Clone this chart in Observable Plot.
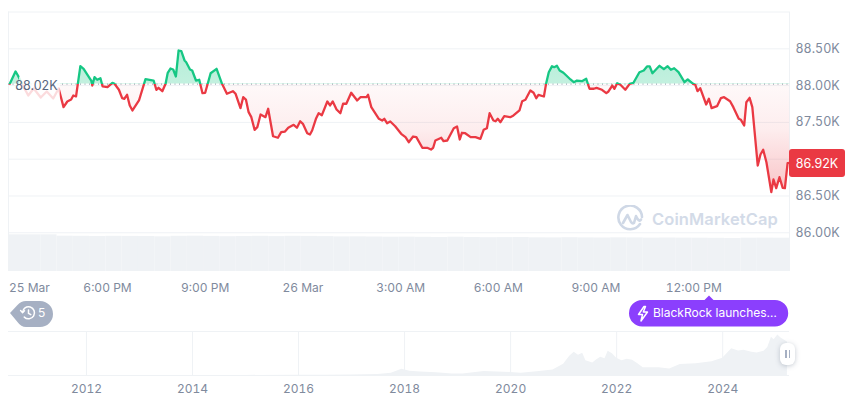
<!DOCTYPE html>
<html><head><meta charset="utf-8">
<script src="https://cdn.jsdelivr.net/npm/d3@7"></script>
<script src="https://cdn.jsdelivr.net/npm/@observablehq/plot@0.6"></script>
<style>
html,body{margin:0;padding:0;background:#fff}
#c{position:relative;width:860px;height:401px;overflow:hidden;font-family:Inter,sans-serif}
#c svg{display:block}
.layer{position:absolute;left:0}
.pill{position:absolute;color:#fff;font-size:12px;display:flex;align-items:center;box-sizing:border-box}
</style></head><body><div id="c"></div>
<script>
const minutes=[0,10.5,15,23,34,44,57,68,80,90,99,106,113,117,122,130,136,144,150,152,156,161,167,171,180,189,193,201,207,211,216,221,226,238,250,265,270,274,281,287,291,296,301,306,311,316,322,325,332,336,343,349,355,360,370,381,391,400,411,416,425,430,435,440,445,451,456,462,471,476,485,494,500,507,513,523,529,535,540,548,553,557,564,569,575,585,590,595,602,609,614,620,629,640,646,657,660,666,680,686,690,695,701,710,721,729,735,743,749,760,769,776,780,784,795,799,806,818,824,829,833,839,849,858,867,873,879,884,891,895,899,904,911,922,928,939,944,950,959,965,970,974,984,988,993,999,1003,1008,1013,1020,1033,1039,1045,1054,1062,1068,1076,1081,1091,1099,1103,1110,1114,1119,1125,1134,1142,1149,1160,1168,1174,1179,1184,1197,1205,1212,1218,1224,1232,1243,1249,1259,1263,1267,1272,1283,1288,1293,1303,1310,1316,1327,1333,1343,1347,1353,1357,1363,1368,1372,1378,1383,1388,1394,1403,1407,1412,1418,1424,1428,1433,1437];
const prices=[88024,88192,88137,88015,87865,87960,87838,87920,87825,87960,87707,87784,87811,87865,87852,88264,88228,88137,88069,88001,88114,88079,88100,87988,87978,88038,88024,87943,87829,87821,87875,87730,87662,87798,88087,88069,87943,87970,87924,88024,88174,88232,88219,88124,88477,88467,88341,88318,88219,88205,88069,88079,87897,87902,88168,88228,88024,87889,87924,87889,87693,87842,87811,87639,87571,87399,87435,87607,87571,87685,87312,87291,87367,87376,87427,87467,87427,87516,87481,87353,87336,87390,87549,87625,87598,87784,87730,87784,87675,87625,87753,87753,87902,87798,87842,87842,87875,87707,87549,87526,87549,87489,87512,87448,87345,87299,87231,87308,87299,87155,87155,87132,87155,87254,87291,87245,87254,87421,87444,87268,87359,87353,87299,87299,87277,87399,87421,87625,87526,87516,87549,87503,87584,87571,87594,87662,87788,87807,87933,87902,87829,87875,87852,88024,88182,88264,88250,88269,88205,88174,88083,88046,88069,88060,88092,87957,87957,87970,87943,87897,87920,88001,87957,88033,88011,87943,88024,88038,88182,88205,88260,88260,88168,88269,88223,88264,88215,88236,88182,88046,88083,88024,88011,87924,87965,87743,87821,87693,87720,87829,87842,87788,87707,87549,87535,87458,87774,87834,87707,87390,86914,87064,87128,86959,86552,86724,86606,86755,86611,86606,86946,86950];
const baselinePrice=88020;
const gridPrices=[86000,86500,87000,87500,88000,88500,89000];
const axisPrices=[86000,86500,87500,88000,88500];
const timeTicks=[36,180,360,540,720,900,1080,1260];
const timeLabels=["25 Mar","6:00 PM","9:00 PM","26 Mar","3:00 AM","6:00 AM","9:00 AM","12:00 PM"];
const volumeStarts=[-3,27,57,87,117,147,177,207,237,267,297,327,357,387,417,447,477,507,537,567,597,627,657,687,717,747,777,807,837,867,897,927,957,987,1017,1047,1077,1107,1137,1167,1197,1227,1257,1287,1317,1347,1377,1407,1437];
const volumes=[36.7,36.7,36.7,35.3,35.2,35.0,35.2,35.1,35.0,34.7,35.2,35.3,35.1,34.8,35.0,35.2,34.9,35.2,35.1,34.9,34.6,34.7,34.5,34.3,34.4,34.2,34.0,34.3,34.0,33.8,33.9,34.0,33.7,33.6,33.8,33.6,33.5,33.7,33.6,33.4,33.5,33.4,33.3,33.2,33.0,33.3,33.4,33.3];
const navYears=[2010.53,2015,2016,2016.5,2017,2017.5,2017.75,2017.95,2018.1,2018.3,2018.6,2018.9,2019.1,2019.5,2019.75,2020,2020.2,2020.5,2020.8,2021,2021.05,2021.12,2021.2,2021.28,2021.36,2021.42,2021.55,2021.62,2021.7,2021.78,2021.84,2021.92,2022,2022.1,2022.2,2022.3,2022.4,2022.5,2022.8,2023,2023.2,2023.5,2023.8,2024,2024.17,2024.3,2024.4,2024.55,2024.65,2024.78,2024.85,2024.92,2024.97,2025.04,2025.1,2025.22];
const navPrices=[0,0.3,0.4,0.6,1,2.5,6,16,11,9,7,4,3.7,10,9,8,6,9.5,14,29,38,50,60,52,57,38,32,40,47,43,62,56,44,38,42,39,30,20,20,17,28,30,35,44,69,63,65,60,58,62,72,98,92,104,96,86];
const navTicks=[2012,2014,2016,2018,2020,2022,2024];
const balanceLabel="88.02K", lastLabel="86.92K", eventLabel="BlackRock launches…", historyCount="5";

const rows=minutes.map((m,i)=>({m,p:prices[i]}));
const xDom=[-2.4,1436.5], yDom=[85474,89000];
const fmt=d=>(d/1000).toFixed(2)+"K";
const GREY="#808a9d", GRID="#eff2f5";
const font={fontFamily:"Inter,sans-serif",fontSize:"12px",background:"transparent",overflow:"visible"};
const NS="http://www.w3.org/2000/svg";
function gradient(id,stops,y){
  const g=document.createElementNS(NS,"linearGradient");
  g.setAttribute("id",id);g.setAttribute("gradientUnits","userSpaceOnUse");
  g.setAttribute("x1",0);g.setAttribute("x2",0);
  const t=y(yDom[1]),b=y(yDom[0]);
  g.setAttribute("y1",t);g.setAttribute("y2",b);
  for(const [v,c,o] of stops){
    const s=document.createElementNS(NS,"stop");
    s.setAttribute("offset",(y(v)-t)/(b-t));s.setAttribute("stop-color",c);s.setAttribute("stop-opacity",o);
    g.appendChild(s);
  }
  return g;
}
const defs=(i,s)=>{
  const d=document.createElementNS(NS,"defs");
  d.appendChild(gradient("lineGrad",[[baselinePrice,"#16c784",1],[baselinePrice,"#ea3943",1]],s.y));
  d.appendChild(gradient("areaGrad",[[88480,"#16c784",.32],[baselinePrice,"#16c784",.26],[baselinePrice,"#ea3943",.03],[87400,"#ea3943",.09],[86550,"#ea3943",.3]],s.y));
  return d;
};
const c=document.getElementById("c");

const vol=Plot.plot({width:860,height:41,marginTop:0,marginBottom:0,marginLeft:8,marginRight:71,
  x:{domain:xDom,axis:null},y:{domain:[0,41],axis:null},style:font,
  marks:[Plot.rectY(volumes,{x1:(d,i)=>volumeStarts[i],x2:(d,i)=>volumeStarts[i+1],y1:0,y2:d=>d,fill:GRID,clip:"frame"})]});
vol.classList.add("layer");vol.style.top="230px";c.appendChild(vol);

const main=Plot.plot({width:860,height:300,marginTop:11.5,marginBottom:29,marginLeft:8,marginRight:71,
  x:{domain:xDom,axis:null},y:{domain:yDom,axis:null},style:font,
  marks:[
    defs,
    Plot.ruleY(gridPrices,{stroke:GRID,strokeWidth:1}),
    Plot.ruleX(xDom,{stroke:GRID,strokeWidth:1}),
    Plot.ruleY([baselinePrice],{stroke:"#8f97a8",strokeWidth:1,strokeDasharray:"1,3.5"}),
    Plot.areaY(rows,{x:"m",y1:()=>baselinePrice,y2:"p",fill:"url(#areaGrad)"}),
    Plot.line(rows,{x:"m",y:"p",stroke:"url(#lineGrad)",strokeWidth:2.3,strokeLinejoin:"round"}),
    Plot.rect([0],{x1:18,x2:93,y1:87770,y2:88115,fill:"#fff",fillOpacity:.82}),
    Plot.text([balanceLabel],{x:()=>49,y:()=>baselinePrice,dy:2,text:d=>d,fill:"#58667e",fontSize:12.5}),
    Plot.axisY(axisPrices,{anchor:"right",tickSize:0,tickPadding:6,tickFormat:fmt,fill:GREY,fontSize:12.5,label:null}),
    Plot.axisX(timeTicks,{anchor:"bottom",tickSize:0,tickPadding:12,tickFormat:(d,i)=>timeLabels[i],fill:GREY,fontSize:12,label:null})
  ]});
main.classList.add("layer");main.style.top="0";c.appendChild(main);

const nav=Plot.plot({width:860,height:71,marginTop:1,marginBottom:26,marginLeft:8,marginRight:71,
  x:{domain:[2010.53,2025.26],axis:null},y:{domain:[0,113],axis:null},style:font,
  marks:[
    Plot.ruleX(navTicks,{stroke:GRID,strokeWidth:1}),
    Plot.areaY(navYears.map((y,i)=>({y,v:navPrices[i]})),{x:"y",y:"v",fill:"#eff2f5"}),
    Plot.ruleY([0,113],{stroke:GRID,strokeWidth:1}),
    Plot.axisX(navTicks,{anchor:"bottom",tickSize:0,tickPadding:9,tickFormat:d=>String(d),fill:GREY,fontSize:12,label:null})
  ]});
nav.classList.add("layer");nav.style.top="330px";c.appendChild(nav);

c.insertAdjacentHTML("beforeend",`
<div class="pill" style="left:789px;top:149px;width:56px;height:28px;background:#ea3943;border-radius:3px;justify-content:center;font-size:12.5px">${lastLabel}</div>
<div style="position:absolute;left:617px;top:205px;display:flex;align-items:center;color:#d3dbe8">
 <svg width="27" height="27" viewBox="0 0 27 27" fill="none" stroke="#cfd8e6" stroke-width="2.6" stroke-linecap="round" stroke-linejoin="round"><path d="M23 19A11.8 11.8 0 1 1 25 12"/><path d="M6 18l4.5-8 3.5 7q1.5 2 3 1l2-7 1.6 3q2 3 3.4.5"/></svg>
 <span style="margin-left:8px;font-size:16.5px;font-weight:600;letter-spacing:.1px">CoinMarketCap</span></div>
<svg style="position:absolute;left:8px;top:298px" width="48" height="30"><path d="M2 15L9.5 7Q13 3 18 3H32a13 13 0 0 1 0 26H18Q13 29 9.5 24Z" fill="#a6b0c3"/>
 <g fill="none" stroke="#fff" stroke-width="1.5" stroke-linecap="round" stroke-linejoin="round"><path d="M14.5 14.5a6 6 0 1 1 1.8 4.6"/><path d="M12.6 12.6l1.9 2 2-1.8"/><path d="M20.5 12v3.4l2.3 1.3"/></g></svg>
<div style="position:absolute;left:38px;top:304px;color:#fff;font-size:12px;line-height:18px">${historyCount}</div>
<svg style="position:absolute;left:629px;top:294px" width="160" height="33"><path d="M13.2 6H75.5L80 1.5L84.5 6H146a13.2 13.2 0 0 1 0 26.4H13.2a13.2 13.2 0 0 1 0-26.4Z" fill="#8b3ffd"/>
 <path d="M15 12.5l-5.5 8h4l-1.5 6.5 6.5-9h-4.2l2.2-5.5Z" fill="none" stroke="#fff" stroke-width="1.5" stroke-linejoin="round"/></svg>
<div style="position:absolute;left:653px;top:303.5px;color:#fff;font-size:12px;line-height:18px;white-space:nowrap">${eventLabel}</div>
<div style="position:absolute;left:780px;top:343px;width:15px;height:22px;background:#fff;border-radius:6px;box-shadow:0 1px 5px rgba(88,102,126,.35);display:flex;align-items:center;justify-content:center;gap:2px"><i style="width:1.5px;height:8px;background:#a6b0c3"></i><i style="width:1.5px;height:8px;background:#a6b0c3"></i></div>
`);
</script></body></html>
